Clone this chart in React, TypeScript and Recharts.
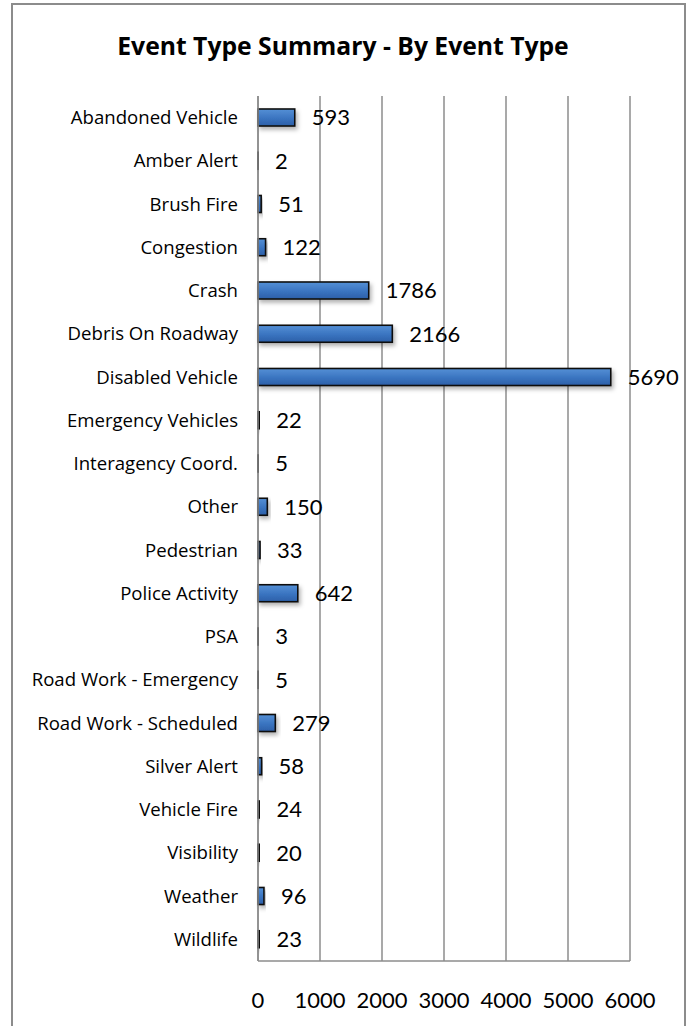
import React from 'react';
import { BarChart, Bar, XAxis, YAxis, CartesianGrid, LabelList } from 'recharts';

const categories = [
  'Abandoned Vehicle', 'Amber Alert', 'Brush Fire', 'Congestion', 'Crash',
  'Debris On Roadway', 'Disabled Vehicle', 'Emergency Vehicles', 'Interagency Coord.', 'Other',
  'Pedestrian', 'Police Activity', 'PSA', 'Road Work - Emergency', 'Road Work - Scheduled',
  'Silver Alert', 'Vehicle Fire', 'Visibility', 'Weather', 'Wildlife',
];
const counts = [593, 2, 51, 122, 1786, 2166, 5690, 22, 5, 150, 33, 642, 3, 5, 279, 58, 24, 20, 96, 23];
const xTicks = [0, 1000, 2000, 3000, 4000, 5000, 6000];
const title = 'Event Type Summary - By Event Type';

const data = categories.map((name, i) => ({ name, value: counts[i] }));

const FONT = 'Lato, "Open Sans", sans-serif';
const LABEL_FONT = '"Open Sans", Lato, sans-serif';

const BarShape = (props: any) => {
  const { x, y, width, height } = props;
  return (
    <rect
      x={x}
      y={y}
      width={Math.max(width, 0)}
      height={height}
      fill="url(#barGrad)"
      stroke="#111"
      strokeWidth={1.6}
      filter="url(#barShadow)"
    />
  );
};

export default function App() {
  return (
    <div style={{ position: 'absolute', left: 0, top: 0, width: 686, height: 1026, background: '#fff', overflow: 'hidden', fontFamily: FONT }}>
      <div style={{ position: 'absolute', left: 11, top: 3, width: 675, height: 1040, border: '2px solid #8c8c8c', boxSizing: 'border-box' }} />
      <div style={{ position: 'absolute', left: 0, top: 29, width: 686, textAlign: 'center', fontSize: 24.7, fontWeight: 700, color: '#000', lineHeight: '34px', fontFamily: LABEL_FONT }}>
        {title}
      </div>
      <div style={{ position: 'absolute', left: 0, top: 0 }}>
        <BarChart
          width={686}
          height={1026}
          data={data}
          layout="vertical"
          margin={{ top: 96, right: 56, bottom: 0, left: 0 }}
          barSize={17}
        >
          <defs>
            <linearGradient id="barGrad" x1="0" y1="0" x2="0" y2="1">
              <stop offset="0%" stopColor="#5590d6" />
              <stop offset="55%" stopColor="#3a74c0" />
              <stop offset="100%" stopColor="#2c5fa8" />
            </linearGradient>
            <filter id="barShadow" x="-20%" y="-50%" width="150%" height="250%">
              <feDropShadow dx="2" dy="3" stdDeviation="2" floodColor="#000" floodOpacity="0.3" />
            </filter>
          </defs>
          <CartesianGrid horizontal={false} vertical={true} stroke="#8c8c8c" strokeWidth={1.5} />
          <XAxis
            type="number"
            domain={[0, 6000]}
            ticks={xTicks}
            interval={0}
            height={65}
            axisLine={{ stroke: '#8c8c8c', strokeWidth: 1.5 }}
            tickLine={false}
            tickSize={0}
            tickMargin={31}
            tick={{ fill: '#000', fontSize: 22, fontFamily: FONT }}
          />
          <YAxis
            type="category"
            dataKey="name"
            width={258}
            axisLine={{ stroke: '#8c8c8c', strokeWidth: 1.5 }}
            tickLine={false}
            tickSize={0}
            tickMargin={20}
            interval={0}
            tick={{ fill: '#000', fontSize: 18.6, fontFamily: LABEL_FONT }}
          />
          <Bar dataKey="value" isAnimationActive={false} shape={BarShape}>
            <LabelList dataKey="value" position="right" offset={17} fill="#000" fontSize={22} fontFamily={FONT} />
          </Bar>
        </BarChart>
      </div>
    </div>
  );
}
